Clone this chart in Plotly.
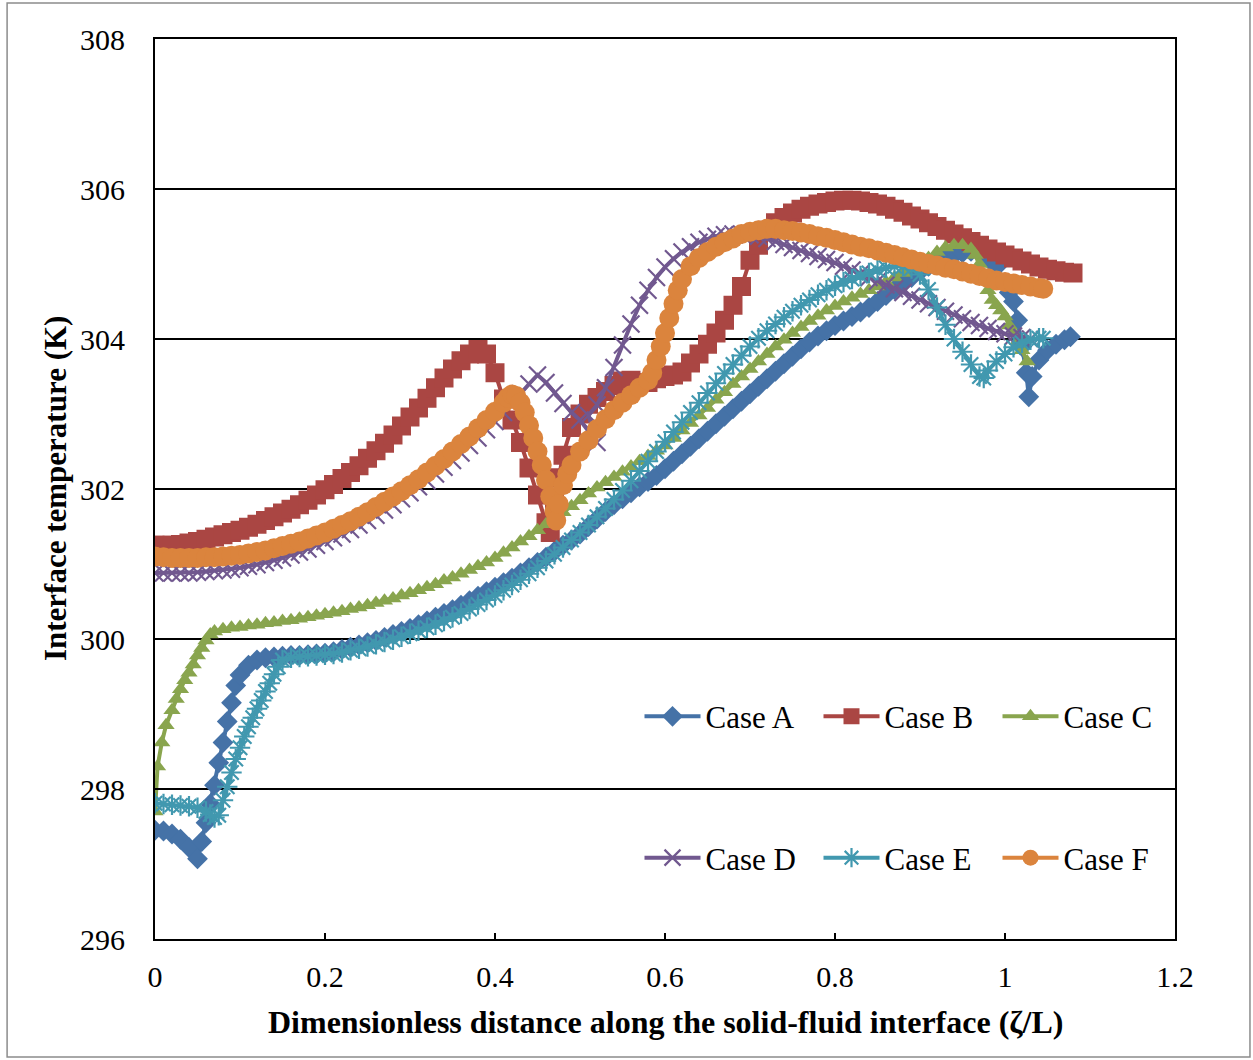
import plotly.graph_objects as go

# Interface temperature (K) along the solid-fluid interface, six cases
case_a_x = [0.00, 0.01, 0.02, 0.03, 0.04, 0.05, 0.055, 0.06, 0.065, 0.07, 0.075, 0.08, 0.085, 0.09, 0.095,
            0.10, 0.11, 0.12, 0.13, 0.14, 0.15, 0.16, 0.17, 0.18, 0.19, 0.20, 0.21, 0.22, 0.23, 0.24,
            0.25, 0.26, 0.27, 0.28, 0.29, 0.30, 0.31, 0.32, 0.33, 0.34, 0.35, 0.36, 0.37, 0.38, 0.39,
            0.40, 0.41, 0.42, 0.43, 0.44, 0.45, 0.46, 0.47, 0.48, 0.49, 0.50, 0.51, 0.52, 0.53, 0.54,
            0.55, 0.56, 0.57, 0.58, 0.59, 0.60, 0.61, 0.62, 0.63, 0.64, 0.65, 0.66, 0.67, 0.68, 0.69,
            0.70, 0.71, 0.72, 0.73, 0.74, 0.75, 0.76, 0.77, 0.78, 0.79, 0.80, 0.81, 0.82, 0.83, 0.84,
            0.85, 0.86, 0.87, 0.88, 0.89, 0.90, 0.91, 0.92, 0.93, 0.94, 0.95, 0.96, 0.97, 0.98, 0.99,
            1.00, 1.005, 1.01, 1.015, 1.02, 1.025, 1.028, 1.032, 1.04, 1.05, 1.06, 1.07, 1.077]
case_a_t = [297.45, 297.44, 297.40, 297.33, 297.22, 297.07, 297.30, 297.55, 297.80, 298.05, 298.35, 298.62, 298.90, 299.15, 299.38,
            299.52, 299.65, 299.72, 299.75, 299.76, 299.77, 299.78, 299.78, 299.79, 299.80, 299.81, 299.83, 299.86, 299.89, 299.92,
            299.95, 299.98, 300.02, 300.06, 300.10, 300.14, 300.19, 300.24, 300.29, 300.34, 300.39, 300.45, 300.51, 300.57, 300.63,
            300.69, 300.75, 300.81, 300.88, 300.95, 301.02, 301.09, 301.17, 301.25, 301.32, 301.40, 301.50, 301.60, 301.70, 301.79,
            301.87, 301.95, 302.03, 302.10, 302.18, 302.27, 302.37, 302.47, 302.57, 302.67, 302.77, 302.87, 302.97, 303.07, 303.17,
            303.27, 303.37, 303.47, 303.57, 303.67, 303.77, 303.87, 303.96, 304.04, 304.11, 304.18, 304.24, 304.30, 304.36, 304.42,
            304.50, 304.58, 304.66, 304.74, 304.82, 304.90, 304.97, 305.03, 305.08, 305.12, 305.15, 305.17, 305.16, 305.08, 304.96,
            304.75, 304.62, 304.50, 304.25, 303.90, 303.55, 303.23, 303.50, 303.72, 303.85, 303.93, 303.99, 304.03]

case_b_x = [0.00, 0.01, 0.02, 0.03, 0.04, 0.05, 0.06, 0.07, 0.08, 0.09, 0.10, 0.11, 0.12, 0.13, 0.14,
            0.15, 0.16, 0.17, 0.18, 0.19, 0.20, 0.21, 0.22, 0.23, 0.24, 0.25, 0.26, 0.27, 0.28, 0.29,
            0.30, 0.31, 0.32, 0.33, 0.34, 0.35, 0.36, 0.37, 0.38, 0.39, 0.40, 0.41, 0.42, 0.43, 0.44,
            0.45, 0.46, 0.465, 0.47, 0.475, 0.48, 0.49, 0.50, 0.51, 0.52, 0.53, 0.54, 0.55, 0.56, 0.57,
            0.58, 0.59, 0.60, 0.61, 0.62, 0.63, 0.64, 0.65, 0.66, 0.67, 0.68, 0.69, 0.70, 0.71, 0.72,
            0.73, 0.74, 0.75, 0.76, 0.77, 0.78, 0.79, 0.80, 0.81, 0.82, 0.83, 0.84, 0.85, 0.86, 0.87,
            0.88, 0.89, 0.90, 0.91, 0.92, 0.93, 0.94, 0.95, 0.96, 0.97, 0.98, 0.99, 1.00, 1.01, 1.02,
            1.03, 1.04, 1.05, 1.06, 1.07, 1.08]
case_b_t = [301.25, 301.25, 301.25, 301.26, 301.28, 301.30, 301.33, 301.36, 301.39, 301.42, 301.45, 301.49, 301.53, 301.58, 301.63,
            301.68, 301.73, 301.79, 301.85, 301.92, 301.99, 302.06, 302.14, 302.22, 302.31, 302.41, 302.51, 302.61, 302.72, 302.84,
            302.96, 303.08, 303.21, 303.35, 303.48, 303.60, 303.71, 303.80, 303.86, 303.80, 303.55, 303.20, 302.92, 302.62, 302.28,
            301.92, 301.55, 301.42, 301.85, 302.15, 302.45, 302.82, 303.00, 303.13, 303.22, 303.30, 303.38, 303.44, 303.45, 303.42,
            303.42, 303.47, 303.50, 303.52, 303.56, 303.68, 303.80, 303.93, 304.08, 304.25, 304.45, 304.70, 305.05, 305.25, 305.45,
            305.55, 305.62, 305.68, 305.73, 305.77, 305.80, 305.82, 305.84, 305.85, 305.85, 305.84, 305.82, 305.80, 305.77, 305.73,
            305.69, 305.64, 305.60, 305.55, 305.50, 305.45, 305.40, 305.35, 305.30, 305.25, 305.20, 305.16, 305.12, 305.08, 305.04,
            305.00, 304.96, 304.93, 304.91, 304.89, 304.88]

case_c_x = [0.000, 0.003, 0.008, 0.013, 0.02, 0.025, 0.03, 0.035, 0.04, 0.045, 0.05, 0.055, 0.06, 0.065, 0.07,
            0.08, 0.09, 0.10, 0.11, 0.12, 0.13, 0.14, 0.15, 0.16, 0.17, 0.18, 0.19, 0.20, 0.21, 0.22,
            0.23, 0.24, 0.25, 0.26, 0.27, 0.28, 0.29, 0.30, 0.31, 0.32, 0.33, 0.34, 0.35, 0.36, 0.37,
            0.38, 0.39, 0.40, 0.41, 0.42, 0.43, 0.44, 0.45, 0.46, 0.47, 0.48, 0.49, 0.50, 0.51, 0.52,
            0.53, 0.54, 0.55, 0.56, 0.57, 0.58, 0.59, 0.60, 0.61, 0.62, 0.63, 0.64, 0.65, 0.66, 0.67,
            0.68, 0.69, 0.70, 0.71, 0.72, 0.73, 0.74, 0.75, 0.76, 0.77, 0.78, 0.79, 0.80, 0.81, 0.82,
            0.83, 0.84, 0.85, 0.86, 0.87, 0.88, 0.89, 0.90, 0.91, 0.92, 0.93, 0.94, 0.95, 0.96, 0.965,
            0.97, 0.975, 0.98, 0.985, 0.99, 0.995, 1.00, 1.005, 1.01, 1.015, 1.02, 1.026]
case_c_t = [297.70, 298.30, 298.62, 298.85, 299.05, 299.20, 299.33, 299.45, 299.55, 299.66, 299.78, 299.88, 299.98, 300.06, 300.10,
            300.13, 300.15, 300.16, 300.18, 300.19, 300.21, 300.22, 300.24, 300.25, 300.27, 300.29, 300.31, 300.33, 300.35, 300.37,
            300.40, 300.42, 300.45, 300.48, 300.51, 300.54, 300.58, 300.61, 300.65, 300.69, 300.73, 300.78, 300.82, 300.87, 300.92,
            300.97, 301.02, 301.08, 301.15, 301.22, 301.30, 301.37, 301.45, 301.53, 301.61, 301.69, 301.77, 301.85, 301.94, 302.02,
            302.09, 302.16, 302.23, 302.30, 302.37, 302.44, 302.51, 302.58, 302.68, 302.78, 302.88, 302.98, 303.08, 303.19, 303.29,
            303.40, 303.50, 303.60, 303.70, 303.80, 303.90, 303.99, 304.08, 304.16, 304.24, 304.31, 304.38, 304.44, 304.50, 304.55,
            304.60, 304.65, 304.70, 304.76, 304.82, 304.88, 304.94, 305.01, 305.08, 305.16, 305.22, 305.25, 305.25, 305.20, 305.12,
            305.00, 304.85, 304.65, 304.52, 304.45, 304.38, 304.30, 304.18, 304.08, 303.97, 303.85, 303.70]

case_d_x = [0.00, 0.01, 0.02, 0.03, 0.04, 0.05, 0.06, 0.07, 0.08, 0.09, 0.10, 0.11, 0.12, 0.13, 0.14,
            0.15, 0.16, 0.17, 0.18, 0.19, 0.20, 0.21, 0.22, 0.23, 0.24, 0.25, 0.26, 0.27, 0.28, 0.29,
            0.30, 0.31, 0.32, 0.33, 0.34, 0.35, 0.36, 0.37, 0.38, 0.39, 0.40, 0.41, 0.42, 0.43, 0.44,
            0.45, 0.46, 0.47, 0.48, 0.49, 0.50, 0.52, 0.51, 0.52, 0.53, 0.54, 0.55, 0.56, 0.57, 0.58,
            0.59, 0.60, 0.61, 0.62, 0.63, 0.64, 0.65, 0.66, 0.67, 0.68, 0.69, 0.70, 0.71, 0.72, 0.73,
            0.74, 0.75, 0.76, 0.77, 0.78, 0.79, 0.80, 0.81, 0.82, 0.83, 0.84, 0.85, 0.86, 0.87, 0.88,
            0.89, 0.90, 0.91, 0.92, 0.93, 0.94, 0.95, 0.96, 0.97, 0.98, 0.99, 1.00, 1.01, 1.02, 1.03]
case_d_t = [300.88, 300.88, 300.88, 300.88, 300.88, 300.89, 300.90, 300.91, 300.92, 300.93, 300.95, 300.97, 300.99, 301.02, 301.05,
            301.08, 301.12, 301.16, 301.20, 301.25, 301.30, 301.35, 301.40, 301.46, 301.52, 301.58, 301.65, 301.72, 301.79, 301.87,
            301.95, 302.03, 302.11, 302.20, 302.29, 302.38, 302.48, 302.58, 302.68, 302.79, 302.90, 303.02, 303.14, 303.27, 303.40,
            303.52, 303.42, 303.28, 303.14, 303.02, 302.92, 302.62, 302.98, 303.12, 303.35, 303.62, 303.92, 304.20, 304.45, 304.65,
            304.82, 304.96, 305.07, 305.16, 305.23, 305.29, 305.33, 305.37, 305.39, 305.40, 305.40, 305.39, 305.37, 305.34, 305.30,
            305.26, 305.22, 305.18, 305.14, 305.10, 305.06, 305.02, 304.97, 304.92, 304.87, 304.82, 304.77, 304.72, 304.67, 304.62,
            304.57, 304.52, 304.47, 304.42, 304.37, 304.32, 304.27, 304.22, 304.18, 304.14, 304.10, 304.07, 304.04, 304.02, 304.00]

case_e_x = [0.00, 0.01, 0.02, 0.03, 0.04, 0.05, 0.06, 0.065, 0.07, 0.075, 0.08, 0.085, 0.09, 0.095, 0.10,
            0.105, 0.11, 0.115, 0.12, 0.125, 0.13, 0.135, 0.14, 0.145, 0.15, 0.16, 0.17, 0.18, 0.19, 0.20,
            0.21, 0.22, 0.23, 0.24, 0.25, 0.26, 0.27, 0.28, 0.29, 0.30, 0.31, 0.32, 0.33, 0.34, 0.35,
            0.36, 0.37, 0.38, 0.39, 0.40, 0.41, 0.42, 0.43, 0.44, 0.45, 0.46, 0.47, 0.48, 0.49, 0.50,
            0.51, 0.52, 0.53, 0.54, 0.55, 0.56, 0.57, 0.58, 0.59, 0.60, 0.61, 0.62, 0.63, 0.64, 0.65,
            0.66, 0.67, 0.68, 0.69, 0.70, 0.71, 0.72, 0.73, 0.74, 0.75, 0.76, 0.77, 0.78, 0.79, 0.80,
            0.81, 0.82, 0.83, 0.84, 0.85, 0.86, 0.87, 0.88, 0.89, 0.90, 0.91, 0.92, 0.93, 0.94, 0.95,
            0.96, 0.97, 0.975, 0.98, 0.99, 1.00, 1.01, 1.02, 1.03, 1.04, 1.045]
case_e_t = [297.81, 297.80, 297.79, 297.78, 297.77, 297.75, 297.70, 297.66, 297.62, 297.65, 297.85, 298.03, 298.22, 298.40, 298.55,
            298.70, 298.83, 298.95, 299.07, 299.18, 299.30, 299.41, 299.53, 299.63, 299.72, 299.75, 299.76, 299.77, 299.78, 299.79,
            299.80, 299.82, 299.85, 299.87, 299.90, 299.93, 299.96, 299.99, 300.03, 300.07, 300.11, 300.15, 300.19, 300.24, 300.29,
            300.34, 300.40, 300.46, 300.52, 300.58, 300.65, 300.72, 300.79, 300.87, 300.95, 301.04, 301.13, 301.22, 301.32, 301.42,
            301.52, 301.63, 301.74, 301.86, 301.98, 302.11, 302.24, 302.37, 302.50, 302.63, 302.76, 302.89, 303.02, 303.15, 303.28,
            303.41, 303.54, 303.66, 303.78, 303.90, 304.01, 304.11, 304.20, 304.29, 304.37, 304.45, 304.52, 304.59, 304.65, 304.71,
            304.76, 304.80, 304.84, 304.88, 304.92, 304.95, 304.97, 304.97, 304.94, 304.86, 304.66, 304.42, 304.19, 304.00, 303.83,
            303.66, 303.50, 303.48, 303.58, 303.70, 303.80, 303.89, 303.95, 303.99, 304.01, 304.01]

case_f_x = [0.00, 0.01, 0.02, 0.03, 0.04, 0.05, 0.06, 0.07, 0.08, 0.09, 0.10, 0.11, 0.12, 0.13, 0.14,
            0.15, 0.16, 0.17, 0.18, 0.19, 0.20, 0.21, 0.22, 0.23, 0.24, 0.25, 0.26, 0.27, 0.28, 0.29,
            0.30, 0.31, 0.32, 0.33, 0.34, 0.35, 0.36, 0.37, 0.38, 0.39, 0.40, 0.41, 0.415, 0.42, 0.425,
            0.43, 0.435, 0.44, 0.445, 0.45, 0.455, 0.46, 0.465, 0.47, 0.472, 0.475, 0.48, 0.485, 0.49, 0.50,
            0.51, 0.52, 0.53, 0.54, 0.55, 0.56, 0.57, 0.58, 0.585, 0.59, 0.595, 0.60, 0.605, 0.61, 0.615,
            0.62, 0.63, 0.64, 0.65, 0.66, 0.67, 0.68, 0.69, 0.70, 0.71, 0.72, 0.73, 0.74, 0.75, 0.76,
            0.77, 0.78, 0.79, 0.80, 0.81, 0.82, 0.83, 0.84, 0.85, 0.86, 0.87, 0.88, 0.89, 0.90, 0.91,
            0.92, 0.93, 0.94, 0.95, 0.96, 0.97, 0.98, 0.99, 1.00, 1.01, 1.02, 1.03, 1.04, 1.045]
case_f_t = [301.10, 301.09, 301.08, 301.08, 301.08, 301.08, 301.09, 301.09, 301.10, 301.11, 301.12, 301.14, 301.16, 301.18, 301.21,
            301.24, 301.27, 301.30, 301.34, 301.38, 301.42, 301.47, 301.52, 301.57, 301.63, 301.69, 301.76, 301.83, 301.90, 301.97,
            302.05, 302.13, 302.22, 302.31, 302.40, 302.50, 302.60, 302.70, 302.81, 302.92, 303.03, 303.15, 303.22, 303.26, 303.24,
            303.15, 303.02, 302.85, 302.68, 302.50, 302.32, 302.12, 301.90, 301.70, 301.58, 301.80, 302.05, 302.20, 302.32, 302.50,
            302.65, 302.80, 302.93, 303.05, 303.15, 303.25, 303.35, 303.45, 303.55, 303.72, 303.90, 304.08, 304.28, 304.47, 304.65,
            304.80, 304.97, 305.08, 305.16, 305.23, 305.29, 305.34, 305.40, 305.43, 305.45, 305.47, 305.47, 305.45, 305.44, 305.42,
            305.40, 305.37, 305.35, 305.32, 305.29, 305.26, 305.23, 305.21, 305.18, 305.15, 305.12, 305.09, 305.06, 305.03, 305.00,
            304.98, 304.95, 304.93, 304.90, 304.87, 304.84, 304.81, 304.78, 304.76, 304.74, 304.72, 304.70, 304.68, 304.67]

serif = "Liberation Serif, Times New Roman, serif"

series = [
    ("Case A", case_a_x, case_a_t, "#4572A7", "diamond", 16, "legend"),
    ("Case B", case_b_x, case_b_t, "#AA4643", "square", 19, "legend"),
    ("Case C", case_c_x, case_c_t, "#89A54E", "triangle-up", 15, "legend"),
    ("Case D", case_d_x, case_d_t, "#71588F", "x-thin", 17, "legend2"),
    ("Case E", case_e_x, case_e_t, "#4198AF", "asterisk", 17, "legend2"),
    ("Case F", case_f_x, case_f_t, "#DB843D", "circle", 20, "legend2"),
]

fig = go.Figure()
for name, xs, ts, color, symbol, size, leg in series:
    open_symbol = symbol in ("x-thin", "asterisk")
    fig.add_trace(go.Scatter(
        x=xs, y=ts, name=name, mode="lines+markers", legend=leg,
        line=dict(color=color, width=4),
        marker=dict(symbol=symbol, size=size, color=color,
                    line=dict(color=color, width=2.2 if open_symbol else 0)),
    ))

axis_common = dict(
    showline=True, linecolor="black", linewidth=2, mirror=True,
    ticks="inside", ticklen=6, tickcolor="black", tickwidth=2,
    tickfont=dict(family=serif, size=30, color="black"),
    zeroline=False,
)

fig.update_xaxes(range=[0, 1.2], showgrid=False,
                 tickvals=[0, 0.2, 0.4, 0.6, 0.8, 1.0, 1.2],
                 ticktext=["0", "0.2", "0.4", "0.6", "0.8", "1", "1.2"],
                 ticklabelstandoff=10, **axis_common)
fig.update_yaxes(range=[296, 308], dtick=2, showgrid=True, gridcolor="black", gridwidth=1.5,
                 ticklabelstandoff=22, **axis_common)

legend_style = dict(orientation="h", font=dict(family=serif, size=31, color="black"),
                    bgcolor="rgba(0,0,0,0)", borderwidth=0, entrywidth=108,
                    itemwidth=56, xanchor="left", yanchor="middle", tracegroupgap=0)

fig.update_layout(
    width=1253, height=1060,
    margin=dict(l=155, r=78, t=39, b=121),
    font=dict(family=serif, color="black"),
    paper_bgcolor="white", plot_bgcolor="white",
    legend=dict(x=0.475, y=0.247, **legend_style),
    legend2=dict(x=0.475, y=0.09, **legend_style),
    annotations=[
        dict(text="<b>Dimensionless distance along the solid-fluid interface (ζ/L)</b>",
             xref="paper", yref="paper", x=0.5, y=-0.092, xanchor="center", yanchor="middle",
             showarrow=False, font=dict(family=serif, size=32, color="black")),
        dict(text="<b>Interface temperature (K)</b>", textangle=-90,
             xref="paper", yref="paper", x=-0.098, y=0.5, xanchor="center", yanchor="middle",
             showarrow=False, font=dict(family=serif, size=31, color="black")),
    ],
    shapes=[dict(type="rect", xref="paper", yref="paper",
                 x0=-0.145, x1=1.0735, y0=-0.131, y1=1.04,
                 line=dict(color="#8c8c8c", width=1.5))],
)

fig.write_html("out.html")
